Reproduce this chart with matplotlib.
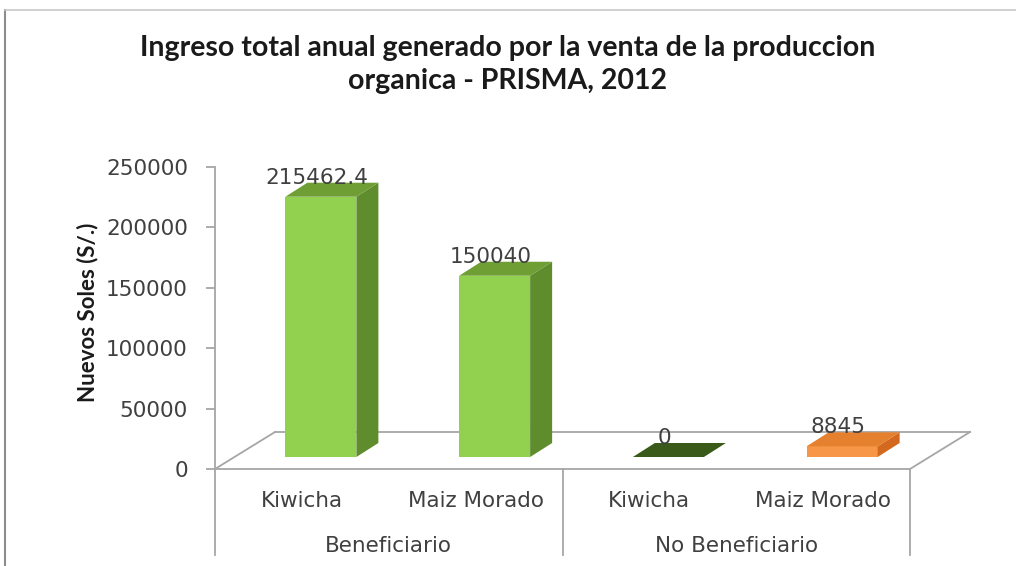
import matplotlib
matplotlib.use("Agg")
import matplotlib.pyplot as plt
from matplotlib.patches import Polygon
from matplotlib.lines import Line2D

# datos del grafico
grupos = ["Beneficiario", "No Beneficiario"]
cultivos = ["Kiwicha", "Maiz Morado", "Kiwicha", "Maiz Morado"]
ingresos = [215462.4, 150040, 0, 8845]
etiquetas = ["215462.4", "150040", "0", "8845"]

# colores de cada barra (frente, lado, tapa)
col_frente = ["#92d050", "#92d050", "#2f4a14", "#f79646"]
col_lado = ["#5f8c2c", "#5f8c2c", "#2f4a14", "#d2691e"]
col_tapa = ["#6e9e34", "#6e9e34", "#3a5a1a", "#e5802f"]

W, H = 1016, 566
fig = plt.figure(figsize=(W / 100, H / 100), dpi=100)
fig.patch.set_facecolor("white")

# ejes ubicados en pixeles
x0, x1, ytop, ybot = 215, 910, 167, 469
ax = fig.add_axes([x0 / W, (H - ybot) / H, (x1 - x0) / W, (ybot - ytop) / H])
ax.set_xlim(-0.5, 3.5)
ax.set_ylim(0, 250000)
ax.patch.set_visible(False)

px_x = 4 / (x1 - x0)          # unidades x por pixel
px_y = 250000 / (ybot - ytop)  # unidades y por pixel

gris = "#a6a6a6"
# piso en perspectiva
fdx, fdy = 60 * px_x, 37 * px_y
piso = dict(color=gris, lw=1.3, clip_on=False, zorder=1)
ax.plot([-0.5, -0.5 + fdx], [0, fdy], **piso)
ax.plot([-0.5 + fdx, 3.5 + fdx], [fdy, fdy], **piso)
ax.plot([3.5, 3.5 + fdx], [0, fdy], **piso)
ax.plot([-0.5, 3.5], [0, 0], **piso)

# barras 3D
bdx, bdy = 22 * px_x, 14 * px_y
offx, offy = 19 * px_x, 12 * px_y
ancho = 71 * px_x
xs = list(range(len(cultivos)))
xc = [x + offx for x in xs]
ax.bar(xc, ingresos, width=ancho, bottom=offy, color=col_frente, zorder=3)
for i, v in enumerate(ingresos):
    xl, xr = xc[i] - ancho / 2, xc[i] + ancho / 2
    b, t = offy, offy + v
    ax.add_patch(Polygon([(xr, b), (xr + bdx, b + bdy), (xr + bdx, t + bdy), (xr, t)],
                         closed=True, fc=col_lado[i], ec="none", zorder=3, clip_on=False))
    ax.add_patch(Polygon([(xl, t), (xl + bdx, t + bdy), (xr + bdx, t + bdy), (xr, t)],
                         closed=True, fc=col_tapa[i], ec="none", zorder=3, clip_on=False))
    ax.text(xc[i] - 4 * px_x, t + bdy - 5 * px_y, etiquetas[i], ha="center", va="bottom",
            fontsize=15.5, color="#404040", zorder=4)

# eje y
for s in ["top", "right", "bottom"]:
    ax.spines[s].set_visible(False)
ax.spines["left"].set_color(gris)
ax.spines["left"].set_linewidth(1.3)
ax.set_yticks([0, 50000, 100000, 150000, 200000, 250000])
ax.tick_params(axis="y", length=6.5, width=1.3, color=gris, pad=13, labelsize=15.5, labelcolor="#404040")
ax.set_yticklabels(["0", "50000", "100000", "150000", "200000", "250000"])

# eje de categorias con dos niveles
ax.set_xticks(xs)
ax.set_xticklabels(cultivos)
ax.tick_params(axis="x", length=0, pad=15.5, labelsize=15.5, labelcolor="#404040")
yb = -86 * px_y
for xsep in [-0.5, 1.5, 3.5]:
    ax.plot([xsep, xsep], [0, yb], color=gris, lw=1.3, clip_on=False, zorder=1)
for g, xg in zip(grupos, [0.5, 2.5]):
    ax.text(xg, -77 * px_y, g, ha="center", va="center", fontsize=15.5, color="#404040")

# titulo y etiqueta del eje
fig.text(0.5, (H - 48) / H, "Ingreso total anual generado por la venta de la produccion",
         ha="center", va="center", fontsize=20.5, fontweight="bold", family="Lato", color="#1a1a1a")
fig.text(0.5, (H - 81) / H, "organica - PRISMA, 2012",
         ha="center", va="center", fontsize=20.5, fontweight="bold", family="Lato", color="#1a1a1a")
fig.text(88 / W, (H - 312) / H, "Nuevos Soles (S/.)", rotation=90, ha="center", va="center",
         fontsize=16, fontweight="bold", family="Lato", color="#1a1a1a")

# borde del area del grafico
fig.add_artist(Line2D([5 / W, 5 / W], [0, (H - 10) / H], color="#8c8c8c", lw=1.5))
fig.add_artist(Line2D([5 / W, 1], [(H - 10) / H, (H - 10) / H], color="#c8c8c8", lw=1.2))

fig.savefig("out.png", dpi=100, facecolor="white")
